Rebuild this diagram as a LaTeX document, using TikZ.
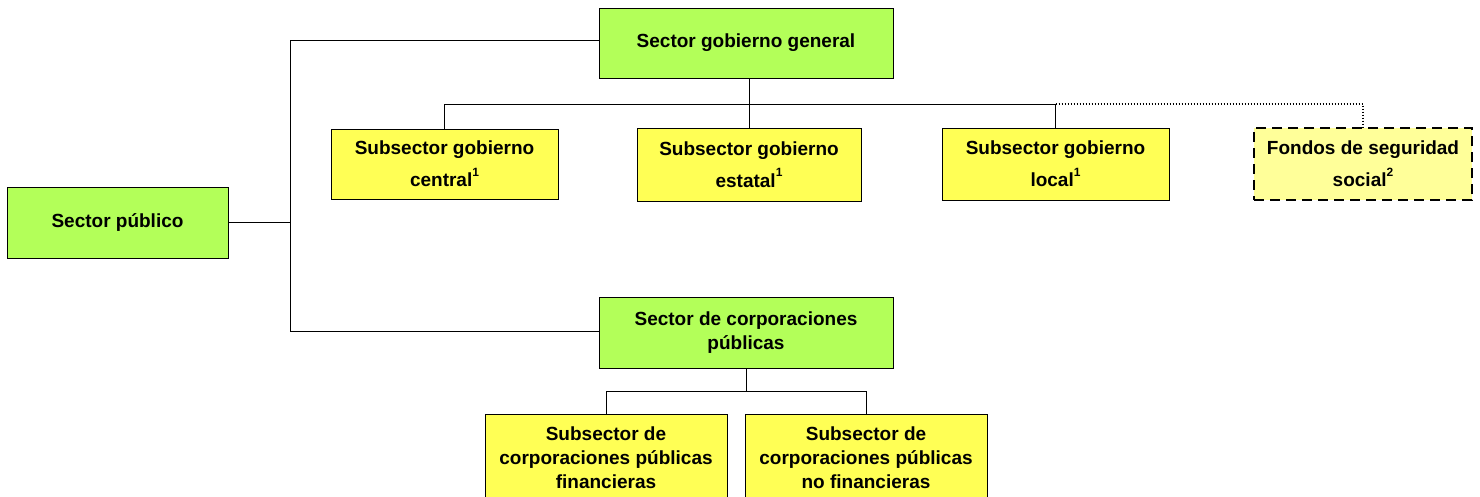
\documentclass[tikz,border=0pt]{standalone}
\usepackage{fontspec}
\setmainfont{Liberation Sans}
\definecolor{boxgreen}{RGB}{179,255,89}
\definecolor{boxyellow}{RGB}{255,255,85}
\definecolor{paleyellow}{RGB}{255,255,153}
\tikzset{
  box/.style={draw=black, line width=1pt, align=center, inner sep=0pt,
    font=\fontsize{19}{24}\selectfont\bfseries},
  tall/.style={font=\fontsize{19}{32}\selectfont\bfseries},
  greenbox/.style={box, fill=boxgreen},
  yellowbox/.style={box, fill=boxyellow},
  dashbox/.style={box, fill=paleyellow, line width=1.8pt, dash pattern=on 10pt off 6pt},
  conn/.style={line width=1pt},
  dotconn/.style={line width=1.4pt, dash pattern=on 1.4pt off 1.6pt}
}
\newcommand{\supnum}[1]{\raisebox{0.55em}{\fontsize{12}{12}\selectfont #1}}
\begin{document}
\begin{tikzpicture}[x=1pt,y=1pt]
\useasboundingbox (0,0) rectangle (1480,-496);
\node[greenbox, minimum width=221pt, minimum height=71pt] (sp) at (117.5,-222.5) {Sector público};
\node[greenbox, minimum width=294pt, minimum height=70pt] (sgg) at (746,-43) {Sector gobierno general};
\node[yellowbox, tall, minimum width=227pt, minimum height=70pt] (sgc) at (444.5,-164) {Subsector gobierno\\central\supnum{1}};
\node[yellowbox, tall, minimum width=224pt, minimum height=73pt] (sge) at (749,-164.5) {Subsector gobierno\\estatal\supnum{1}};
\node[yellowbox, tall, minimum width=227pt, minimum height=72pt] (sgl) at (1055.5,-164) {Subsector gobierno\\local\supnum{1}};
\node[dashbox, tall, minimum width=218pt, minimum height=72pt] (fss) at (1363,-164) {Fondos de seguridad\\social\supnum{2}};
\node[greenbox, minimum width=294pt, minimum height=71pt] (scp) at (746,-332.5) {Sector de corporaciones\\públicas};
\node[yellowbox, minimum width=242pt, minimum height=88pt] (scf) at (606,-458) {Subsector de\\corporaciones públicas\\financieras};
\node[yellowbox, minimum width=242pt, minimum height=88pt] (scn) at (866,-458) {Subsector de\\corporaciones públicas\\no financieras};
\coordinate (bx) at (290,0);
\coordinate (h1) at (0,-104);
\coordinate (h2) at (0,-391);
\draw[conn] ([yshift=3pt]sgg.west) -- ([yshift=3pt]sgg.west -| bx) -- ([yshift=1pt]scp.west -| bx) -- ([yshift=1pt]scp.west);
\draw[conn] (sp.east) -- (sp.east -| bx);
\draw[conn] (sge.north) -- (sge.north |- sgg.south);
\draw[conn] (sgc.north) -- (sgc.north |- h1) -- (sgl.north |- h1) -- (sgl.north);
\draw[dotconn] (sgl.north |- h1) -- (fss.north |- h1) -- (fss.north);
\draw[conn] (scp.south) -- (scp.south |- h2);
\draw[conn] (scf.north) -- (scf.north |- h2) -- (scn.north |- h2) -- (scn.north);
\end{tikzpicture}
\end{document}
